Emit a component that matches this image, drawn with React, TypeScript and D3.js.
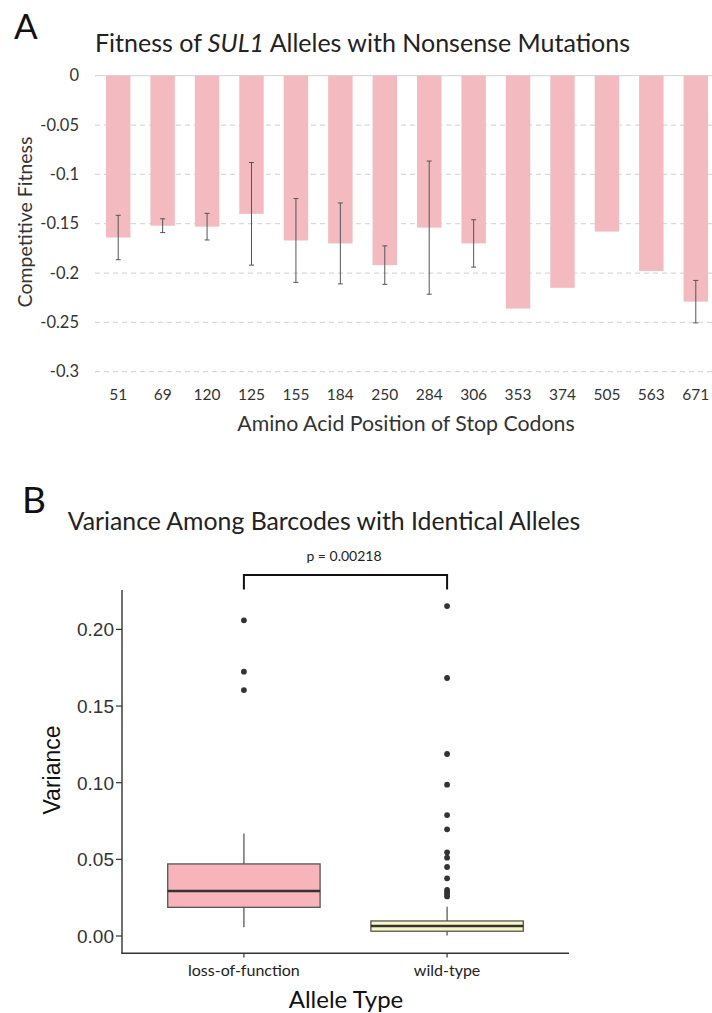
import React from "react";
import * as d3 from "d3";

// ---------- Panel A data ----------
const stopPositions = ["51", "69", "120", "125", "155", "184", "250", "284", "306", "353", "374", "505", "563", "671"];
const fitnessValues = [-0.164, -0.152, -0.153, -0.14, -0.167, -0.17, -0.192, -0.154, -0.17, -0.236, -0.215, -0.158, -0.198, -0.229];
const fitnessErrors = [0.0225, 0.007, 0.0135, 0.052, 0.0425, 0.041, 0.0195, 0.0675, 0.024, 0, 0, 0, 0, 0.0215];
const fitnessTicks = [0, -0.05, -0.1, -0.15, -0.2, -0.25, -0.3];
const fitnessTickLabels = ["0", "-0.05", "-0.1", "-0.15", "-0.2", "-0.25", "-0.3"];

// ---------- Panel B data ----------
const alleleTypes = ["loss-of-function", "wild-type"];
const boxQ1 = [0.0187, 0.0031];
const boxMedian = [0.0293, 0.0065];
const boxQ3 = [0.047, 0.0098];
const whiskerLow = [0.0057, 0.0003];
const whiskerHigh = [0.0669, 0.0191];
const outliersLOF = [0.2059, 0.1724, 0.1604];
const outliersWT = [0.2152, 0.1683, 0.1187, 0.0987, 0.0789, 0.0696, 0.0546, 0.0511, 0.045, 0.0376, 0.03, 0.0285, 0.027, 0.0258];
const varianceTicks = [0, 0.05, 0.1, 0.15, 0.2];
const boxFills = ["#F8B4BB", "#F9F6C6"];

const CAL = "Lato, 'Open Sans', sans-serif";
const ARIAL = "'Liberation Sans', Arial, sans-serif";

export default function App() {
  const W = 712;
  const H = 1013;

  // Panel A scales
  const xA = d3.scaleBand<string>().domain(stopPositions).range([96, 718]).paddingInner(0.45).paddingOuter(0.225);
  const yA = d3.scaleLinear().domain([-0.3, 0]).range([371.7, 75.7]);

  // Panel B scales
  const xB = d3.scalePoint<string>().domain(alleleTypes).range([122, 569]).padding(0.6);
  const yB = d3.scaleLinear().domain([-0.0111, 0.2257]).range([953, 590]);
  const stepB = xB.step();
  const boxW = stepB * 0.75;

  const outlierSets = [outliersLOF, outliersWT];

  return (
    <svg width={W} height={H} style={{ position: "absolute", left: 0, top: 0, background: "#fff" }}>
      {/* ---------- Panel A ---------- */}
      <text x={14} y={39} fontFamily={CAL} fontSize={35} fill="#111">A</text>
      <text x={95} y={52} fontFamily={CAL} fontSize={25} fill="#222">
        Fitness of <tspan fontStyle="italic">SUL1</tspan> Alleles with Nonsense Mutations
      </text>

      {fitnessTicks.map((t, i) => (
        <g key={"ga" + i}>
          <line
            x1={95}
            x2={712}
            y1={yA(t)}
            y2={yA(t)}
            stroke="#d9d9d9"
            strokeWidth={1.2}
            strokeDasharray={t === 0 ? undefined : "5,4"}
          />
          <text x={79} y={yA(t)} dy="0.35em" textAnchor="end" fontFamily={CAL} fontSize={16.5} fill="#333">
            {fitnessTickLabels[i]}
          </text>
        </g>
      ))}

      {stopPositions.map((p, i) => {
        const x0 = xA(p)!;
        const bw = xA.bandwidth();
        const v = fitnessValues[i];
        const e = fitnessErrors[i];
        const cx = x0 + bw / 2;
        return (
          <g key={"bar" + i}>
            <rect x={x0} y={yA(0)} width={bw} height={yA(v) - yA(0)} fill="#F3BAC0" />
            {e > 0 && (
              <g stroke="#555" strokeWidth={1}>
                <line x1={cx} x2={cx} y1={yA(v + e)} y2={yA(v - e)} />
                <line x1={cx - 2.5} x2={cx + 2.5} y1={yA(v + e)} y2={yA(v + e)} />
                <line x1={cx - 2.5} x2={cx + 2.5} y1={yA(v - e)} y2={yA(v - e)} />
              </g>
            )}
            <text x={cx} y={400} textAnchor="middle" fontFamily={CAL} fontSize={15.5} fill="#333">
              {p}
            </text>
          </g>
        );
      })}

      <text x={406} y={431} textAnchor="middle" fontFamily={CAL} fontSize={21.3} fill="#333">
        Amino Acid Position of Stop Codons
      </text>
      <text
        transform={`translate(32,222) rotate(-90)`}
        textAnchor="middle"
        fontFamily={CAL}
        fontSize={19.5}
        fill="#333"
      >
        Competitive Fitness
      </text>

      {/* ---------- Panel B ---------- */}
      <text x={22} y={513} fontFamily={CAL} fontSize={37} fill="#111">B</text>
      <text x={324} y={530} textAnchor="middle" fontFamily={CAL} fontSize={24.8} fill="#222">
        Variance Among Barcodes with Identical Alleles
      </text>
      <text x={344} y={561} textAnchor="middle" fontFamily={CAL} fontSize={14} fill="#222">
        p = 0.00218
      </text>
      <path
        d={`M${xB(alleleTypes[0])},589.5 V575 H${xB(alleleTypes[1])} V589.5`}
        fill="none"
        stroke="#111"
        strokeWidth={2}
      />

      {/* axes */}
      <line x1={122} x2={122} y1={590} y2={953.5} stroke="#333" strokeWidth={1.4} />
      <line x1={121.3} x2={569} y1={953.3} y2={953.3} stroke="#333" strokeWidth={1.4} />
      {varianceTicks.map((t, i) => (
        <g key={"tb" + i}>
          <line x1={116} x2={122} y1={yB(t)} y2={yB(t)} stroke="#333" strokeWidth={1.2} />
          <text x={114} y={yB(t)} dy="0.36em" textAnchor="end" fontFamily={ARIAL} fontSize={19} fill="#333">
            {t.toFixed(2)}
          </text>
        </g>
      ))}
      {alleleTypes.map((c, i) => (
        <g key={"xt" + i}>
          <line x1={xB(c)} x2={xB(c)} y1={953.3} y2={957.5} stroke="#333" strokeWidth={1.2} />
          <text x={xB(c)} y={976} textAnchor="middle" fontFamily={CAL} fontSize={16} fill="#222">
            {c}
          </text>
        </g>
      ))}
      <text
        transform={`translate(60,770) rotate(-90)`}
        textAnchor="middle"
        fontFamily={ARIAL}
        fontSize={23}
        fill="#111"
      >
        Variance
      </text>
      <text x={346} y={1008} textAnchor="middle" fontFamily={CAL} fontSize={24} fill="#111">
        Allele Type
      </text>

      {/* boxes */}
      {alleleTypes.map((c, i) => {
        const cx = xB(c)!;
        return (
          <g key={"box" + i}>
            <line x1={cx} x2={cx} y1={yB(whiskerHigh[i])} y2={yB(boxQ3[i])} stroke="#666" strokeWidth={1.4} />
            <line x1={cx} x2={cx} y1={yB(boxQ1[i])} y2={yB(whiskerLow[i])} stroke="#666" strokeWidth={1.4} />
            <rect
              x={cx - boxW / 2}
              y={yB(boxQ3[i])}
              width={boxW}
              height={yB(boxQ1[i]) - yB(boxQ3[i])}
              fill={boxFills[i]}
              stroke="#555"
              strokeWidth={1.3}
            />
            <line
              x1={cx - boxW / 2}
              x2={cx + boxW / 2}
              y1={yB(boxMedian[i])}
              y2={yB(boxMedian[i])}
              stroke="#333"
              strokeWidth={2.6}
            />
            {outlierSets[i].map((o, j) => (
              <circle key={j} cx={cx} cy={yB(o)} r={2.9} fill="#333" />
            ))}
          </g>
        );
      })}
    </svg>
  );
}
